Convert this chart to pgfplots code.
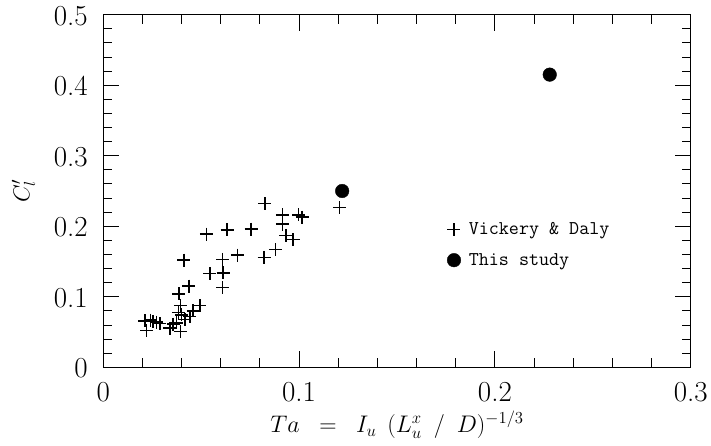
\RequirePackage{fix-cm}
\documentclass[border=0pt]{standalone}
\usepackage{fontspec}
\usepackage{pgfplots}
\pgfplotsset{compat=1.18}
\begin{document}
\begin{tikzpicture}[x=1pt,y=1pt]
\begin{axis}[
  scale only axis,
  width=587.4pt, height=352.6pt,
  xmin=0, xmax=0.3, ymin=0, ymax=0.5,
  xtick={0,0.1,0.2,0.3}, ytick={0,0.1,0.2,0.3,0.4,0.5},
  minor tick num=4,
  tick align=inside,
  xtick pos=both, ytick pos=both,
  major tick length=16pt, minor tick length=9pt,
  every tick/.style={black, line width=0.9pt},
  axis line style={line width=0.9pt},
  /pgf/number format/assume math mode=true,
  tick label style={font=\fontsize{29}{32}\selectfont},
  xticklabel style={yshift=-11pt},
  yticklabel style={xshift=-12pt, yshift=-1pt},
  xlabel={$Ta\hspace{13pt}=\hspace{13pt}I_u\hspace{11pt}(L_u^x\hspace{12pt}/\hspace{12pt}D)^{-1/3}$},
  xlabel style={font=\fontsize{24}{26}\selectfont, yshift=-3pt},
  ylabel={$C'_l$},
  ylabel style={font=\fontsize{23}{24}\selectfont, yshift=12pt},
  legend style={draw=none, fill=none, at={(0.58,0.4217)}, anchor=north west,
    font=\fontsize{19.5}{22}\selectfont\ttfamily, row sep=13pt,
    /tikz/every odd column/.append style={column sep=6pt}},
  legend cell align=left,
  clip=false,
]
\addplot[only marks, mark=+, mark size=6.5pt, line width=1.5pt] coordinates {
(0.0825,0.232) (0.0915,0.216) (0.0998,0.216) (0.1015,0.213) (0.0915,0.203)
(0.0527,0.189) (0.0633,0.195) (0.0755,0.196) (0.0932,0.187) (0.0969,0.181)
(0.0879,0.167) (0.0821,0.156) (0.0685,0.159) (0.0609,0.153) (0.0411,0.152)
(0.0544,0.133) (0.0612,0.134) (0.0609,0.113) (0.0437,0.115) (0.0386,0.104)
(0.0493,0.0875) (0.0459,0.080) (0.0394,0.0875) (0.0383,0.0777) (0.0400,0.0744)
(0.0442,0.072) (0.0416,0.068) (0.0357,0.0613) (0.0340,0.0557) (0.0394,0.051)
(0.0212,0.066) (0.0221,0.052) (0.0241,0.067) (0.0255,0.065) (0.0272,0.064)
(0.0289,0.062) (0.0374,0.063) (0.1207,0.2266)
};
\addlegendentry{Vickery \& Daly}
\addplot[only marks, mark=*, mark size=6.8pt, black] coordinates {
(0.122,0.250) (0.228,0.415)
};
\addlegendentry{This study}
\end{axis}
\pgfresetboundingbox
\path[use as bounding box] (current axis.south west) ++(-103.3pt,-78.7pt) rectangle ++(711pt,446pt);
\end{tikzpicture}
\end{document}
